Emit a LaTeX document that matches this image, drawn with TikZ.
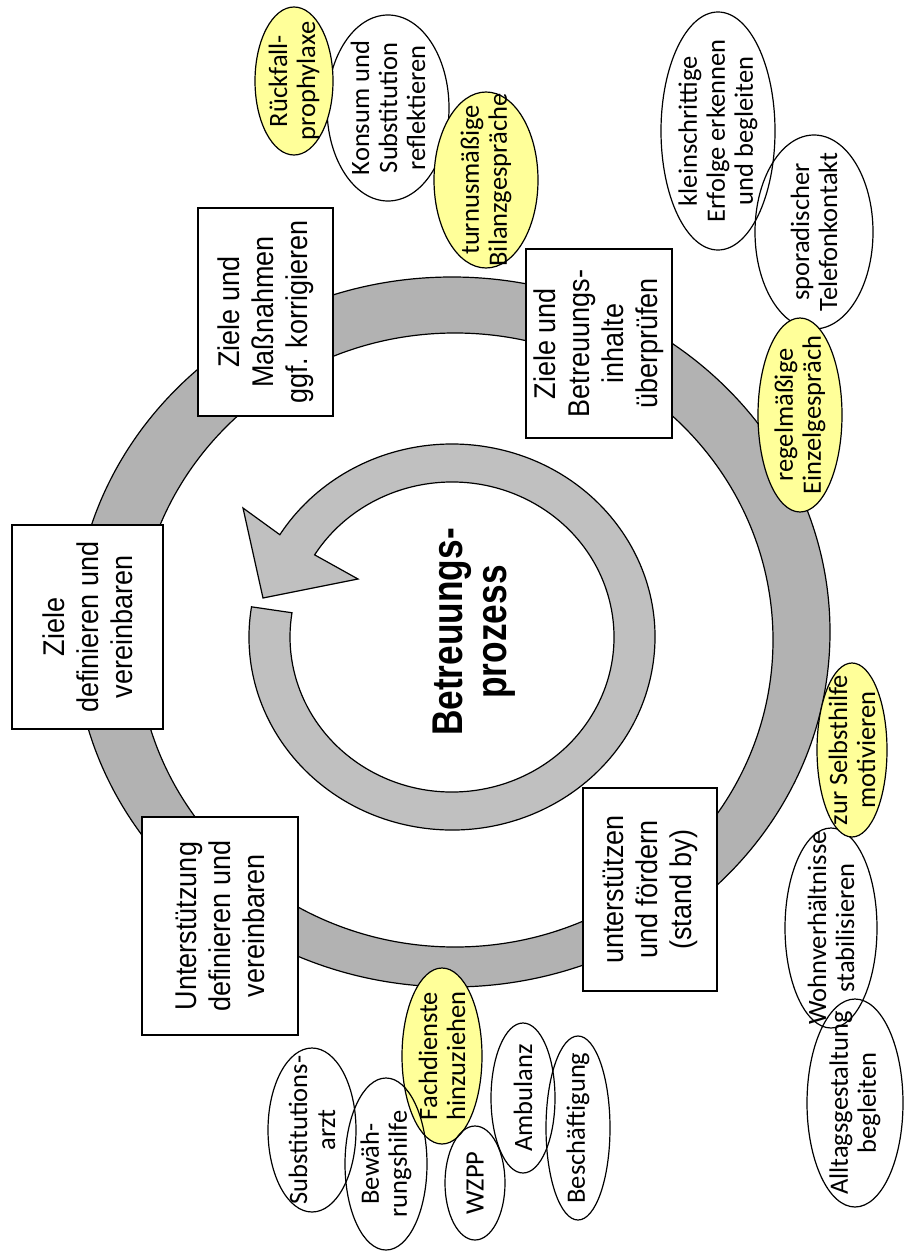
\documentclass[tikz,border=0pt]{standalone}
\usepackage{fontspec}
\usetikzlibrary{shapes.geometric,calc}
\newfontfamily\boxfnt[FakeStretch=0.9]{Liberation Sans}
\newfontfamily\ctrfnt[FakeStretch=0.82]{Liberation Sans}
\newfontfamily\elfnt{Carlito}
\definecolor{ringgray}{HTML}{B2B2B2}
\definecolor{arrowgray}{HTML}{C0C0C0}
\definecolor{lightyellow}{HTML}{FFFF99}
\tikzset{
  stepbox/.style={draw=black, line width=1.6pt, fill=white, rotate=90, align=center,
    inner sep=2pt, font=\boxfnt\fontsize{30}{34}\selectfont},
  ellw/.style={ellipse, draw=black, line width=1.2pt, inner sep=0pt},
  elly/.style={ellw, fill=lightyellow},
  etext/.style={rotate=90, align=center, inner sep=0pt, font=\elfnt\fontsize{26.5}{28}\selectfont},
  ctext/.style={rotate=90, align=center, inner sep=0pt, font=\ctrfnt\bfseries\fontsize{43}{44}\selectfont},
  ringline/.style={draw=black, line width=1.2pt}
}
\begin{document}
\begin{tikzpicture}[x=1pt,y=1pt]
\useasboundingbox (0,0) rectangle (904,-1252);
% outer ring
\fill[ringgray, even odd rule] (452,-632) ellipse [x radius=378, y radius=355]
  (455,-640) ellipse [x radius=318, y radius=307];
\draw[ringline] (452,-632) ellipse [x radius=378, y radius=355];
\draw[ringline] (455,-640) ellipse [x radius=318, y radius=307];
% inner circular arrow
\coordinate (ac) at (452,-637);
\coordinate (barbout) at (243,-508);
\coordinate (tip) at (263,-598);
\coordinate (barbin) at (358,-579);
\draw[ringline, fill=arrowgray] ($(ac)+(171:203 and 193)$)
  arc[start angle=171, end angle=508, x radius=203, y radius=193]
  -- (barbout) -- (tip) -- (barbin)
  -- ($(ac)+(508:162 and 155)$)
  arc[start angle=508, end angle=171, x radius=162, y radius=155] -- cycle;
\node[ctext] (center) at (474,-632) {Betreuungs-\\prozess};
% ellipses top
\node[ellw, minimum width=122, minimum height=186] (e2) at (388,-108) {};
\node[elly, minimum width=78, minimum height=148] (e1) at (294,-81) {};
\node[elly, minimum width=104, minimum height=176] (e3) at (486,-180) {};
\node[etext] (t1) at (e1) {Rückfall-\\prophylaxe};
\node[etext] (t2) at (e2) {Konsum und\\Substitution\\reflektieren};
\node[etext] (t3) at (e3) {turnusmäßige\\Bilanzgespräche};
% ellipses top right
\node[ellw, minimum width=118, minimum height=194] (e5) at (814,-232) {};
\node[ellw, minimum width=114, minimum height=238] (e4) at (718,-131) {};
\node[elly, minimum width=84, minimum height=194] (e6) at (800,-415) {};
\node[etext] (t4) at (e4) {kleinschrittige\\Erfolge erkennen\\und begleiten};
\node[etext] (t5) at (e5) {sporadischer\\Telefonkontakt};
\node[etext] (t6) at (e6) {regelmäßige\\Einzelgespräch};
% ellipses bottom right
\node[ellw, minimum width=92, minimum height=200] (e8) at (831,-928) {};
\node[ellw, minimum width=96, minimum height=208] (e9) at (855,-1103) {};
\node[elly, minimum width=70, minimum height=174] (e7) at (852,-750) {};
\node[etext] (t7) at (e7) {zur Selbsthilfe\\motivieren};
\node[etext] (t8) at (e8) {Wohnverhältnisse\\stabilisieren};
\node[etext] (t9) at (e9) {Alltagsgestaltung\\begleiten};
% ellipses bottom
\node[elly, minimum width=80, minimum height=176] (e12) at (442,-1056) {};
\node[ellw, minimum width=88, minimum height=164] (e10) at (312,-1130) {};
\node[ellw, minimum width=82, minimum height=172] (e11) at (386,-1164) {};
\node[ellw, minimum width=60, minimum height=114] (e13) at (475,-1183) {};
\node[ellw, minimum width=64, minimum height=150] (e14) at (523,-1098) {};
\node[ellw, minimum width=64, minimum height=184] (e15) at (578,-1128) {};
\node[etext] (t10) at (e10) {Substitutions-\\arzt};
\node[etext] (t11) at (e11) {Bewäh-\\rungshilfe};
\node[etext] (t12) at (e12) {Fachdienste\\hinzuziehen};
\node[etext] (t13) at (e13) {WZPP};
\node[etext] (t14) at (e14) {Ambulanz};
\node[etext] (t15) at (e15) {Beschäftigung};
% boxes
\node[stepbox, minimum width=204, minimum height=151] (b1) at (87.5,-627) {Ziele\\definieren und\\vereinbaren};
\node[stepbox, minimum width=208, minimum height=135] (b2) at (265.5,-312) {Ziele und\\Maßnahmen\\ggf. korrigieren};
\node[stepbox, minimum width=189, minimum height=146] (b3) at (599,-343.5) {Ziele und\\Betreuungs-\\inhalte\\überprüfen};
\node[stepbox, minimum width=203, minimum height=134] (b4) at (650,-889.5) {unterstützen\\und fördern\\(stand by)};
\node[stepbox, minimum width=218, minimum height=156] (b5) at (220,-926) {Unterstützung\\definieren und\\vereinbaren};
\end{tikzpicture}
\end{document}
